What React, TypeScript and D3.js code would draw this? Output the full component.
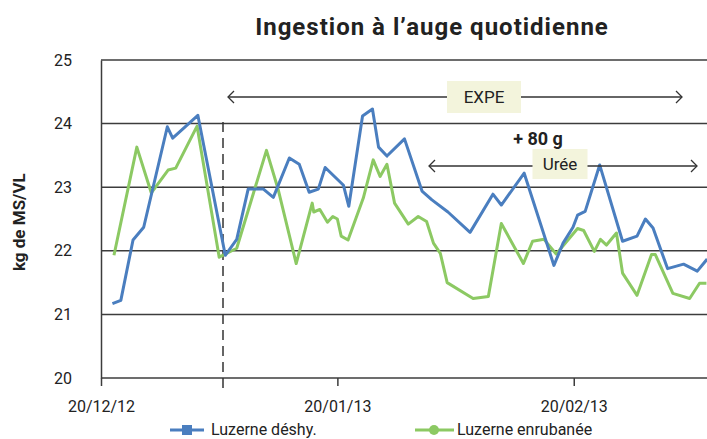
import React, { useEffect, useRef } from 'react';
import * as d3 from 'd3';

// days counted from 20/12/12 (fractional)
const deshyDays = [1.5, 2.6, 4.2, 5.6, 8.7, 9.4, 12.7, 16.3, 17.8, 19.3, 21.3, 22.6, 24.7, 26.0, 27.3, 28.5, 29.4, 31.8, 32.5, 34.3, 35.6, 36.4, 37.5, 39.8, 42.1, 43.4, 45.5, 48.4, 51.4, 52.5, 55.5, 59.4, 60.6, 61.9, 62.5, 63.5, 65.4, 68.4, 70.3, 71.4, 72.4, 74.3, 76.4, 78.2, 79.5];
const deshyValues = [21.17, 21.22, 22.17, 22.37, 23.95, 23.77, 24.13, 21.93, 22.18, 22.97, 22.97, 22.84, 23.46, 23.36, 22.92, 22.97, 23.31, 23.03, 22.7, 24.12, 24.23, 23.63, 23.49, 23.76, 22.94, 22.8, 22.61, 22.29, 22.89, 22.72, 23.22, 21.77, 22.12, 22.37, 22.56, 22.62, 23.35, 22.15, 22.23, 22.5, 22.36, 21.72, 21.79, 21.68, 21.87];

const enrubDays = [1.7, 4.7, 6.6, 8.8, 9.8, 12.6, 15.5, 17.8, 21.7, 23.2, 25.6, 27.7, 27.9, 28.7, 29.7, 30.4, 31.0, 31.5, 32.4, 34.4, 35.7, 36.6, 37.5, 38.5, 40.3, 41.6, 42.7, 43.6, 44.5, 45.4, 48.8, 50.8, 52.5, 55.4, 56.6, 58.1, 59.7, 62.5, 63.3, 64.7, 65.5, 66.3, 67.6, 68.4, 70.3, 72.2, 72.7, 75.0, 77.2, 78.5, 79.4];
const enrubValues = [21.93, 23.63, 22.91, 23.27, 23.3, 23.96, 21.9, 22.04, 23.58, 22.98, 21.8, 22.75, 22.61, 22.65, 22.45, 22.54, 22.5, 22.23, 22.17, 22.83, 23.43, 23.17, 23.36, 22.75, 22.42, 22.54, 22.46, 22.12, 21.96, 21.5, 21.25, 21.28, 22.43, 21.8, 22.15, 22.18, 21.95, 22.35, 22.32, 21.99, 22.18, 22.09, 22.28, 21.65, 21.3, 21.94, 21.94, 21.33, 21.25, 21.49, 21.49];

const xTickLabels = ['20/12/12', '20/01/13', '20/02/13'];
const yTicks = [20, 21, 22, 23, 24, 25];
const expeStart = '05/01/13';
const seriesNames = ['Luzerne déshy.', 'Luzerne enrubanée'];

const BLUE = '#4a7ebf';
const GREEN = '#8cc963';
const FONT = 'Roboto, sans-serif';

const App: React.FC = () => {
  const ref = useRef<SVGSVGElement | null>(null);

  useEffect(() => {
    if (!ref.current) return;
    const svg = d3.select(ref.current);
    svg.selectAll('*').remove();

    const parse = d3.timeParse('%d/%m/%y');
    const start = parse(xTickLabels[0]) as Date;
    const toDate = (d: number) => new Date(start.getTime() + d * 86400000);

    const x = d3.scaleTime().domain([start, toDate(80)]).range([101, 711]);
    const y = d3.scaleLinear().domain([20, 25]).range([378, 60]);

    // title
    svg.append('text')
      .attr('x', 432).attr('y', 35)
      .attr('text-anchor', 'middle')
      .style('font', `bold 24px ${FONT}`)
      .style('letter-spacing', '1px')
      .attr('fill', '#222')
      .text('Ingestion à l\u2019auge quotidienne');

    // grid
    svg.append('g').selectAll('line')
      .data(yTicks)
      .join('line')
      .attr('x1', 101).attr('x2', 707)
      .attr('y1', d => y(d)).attr('y2', d => y(d))
      .attr('stroke', '#3c3c3c').attr('stroke-width', 1.5);

    const yAxis = svg.append('g')
      .attr('transform', 'translate(101,0)')
      .call(d3.axisLeft(y).tickValues(yTicks).tickSize(0).tickPadding(29).tickFormat(d3.format('d')));
    yAxis.select('.domain').attr('stroke', '#3c3c3c').attr('stroke-width', 1.5);
    yAxis.selectAll('text').style('font', `16px ${FONT}`).attr('fill', '#222');

    const xAxis = svg.append('g')
      .attr('transform', 'translate(0,378)')
      .call(d3.axisBottom(x)
        .tickValues(xTickLabels.map(s => parse(s) as Date))
        .tickSize(8).tickPadding(15)
        .tickFormat(d3.timeFormat('%d/%m/%y') as any));
    xAxis.select('.domain').remove();
    xAxis.selectAll('line').attr('stroke', '#3c3c3c').attr('stroke-width', 1.5);
    xAxis.selectAll('text').style('font', `16px ${FONT}`).attr('fill', '#222');

    // y label
    svg.append('text')
      .attr('transform', `translate(19,${y(22.45)}) rotate(-90)`)
      .attr('text-anchor', 'middle')
      .attr('dy', '0.35em')
      .style('font', `bold 17px ${FONT}`)
      .attr('fill', '#222')
      .text('kg de MS/VL');

    // experiment start
    const ex = x(parse(expeStart) as Date);
    svg.append('line')
      .attr('x1', ex).attr('x2', ex)
      .attr('y1', 122).attr('y2', 390)
      .attr('stroke', '#333').attr('stroke-width', 1.5)
      .attr('stroke-dasharray', '10,6');

    // lines
    const g = svg.append('g');
    const line = d3.line<[number, number]>()
      .x(d => x(toDate(d[0])))
      .y(d => y(d[1]));
    g.append('path')
      .datum(enrubDays.map((d, i) => [d, enrubValues[i]] as [number, number]))
      .attr('fill', 'none').attr('stroke', GREEN).attr('stroke-width', 3)
      .attr('stroke-linejoin', 'round')
      .attr('d', line);
    g.append('path')
      .datum(deshyDays.map((d, i) => [d, deshyValues[i]] as [number, number]))
      .attr('fill', 'none').attr('stroke', BLUE).attr('stroke-width', 3)
      .attr('stroke-linejoin', 'round')
      .attr('d', line);

    // arrows
    const arrow = (x1: number, x2: number, yy: number) => {
      const a = svg.append('g').attr('stroke', '#333').attr('stroke-width', 1.3).attr('fill', 'none');
      a.append('line').attr('x1', x1).attr('x2', x2).attr('y1', yy).attr('y2', yy);
      a.append('path').attr('d', `M${x1 + 6},${yy - 6}L${x1},${yy}L${x1 + 6},${yy + 6}`);
      a.append('path').attr('d', `M${x2 - 6},${yy - 6}L${x2},${yy}L${x2 - 6},${yy + 6}`);
    };
    const label = (cx: number, y0: number, w: number, h: number, t: string) => {
      svg.append('rect').attr('x', cx - w / 2).attr('y', y0).attr('width', w).attr('height', h).attr('fill', '#f3f4dc');
      svg.append('text').attr('x', cx).attr('y', y0 + h / 2).attr('dy', '0.35em')
        .attr('text-anchor', 'middle').style('font', `17px ${FONT}`).attr('fill', '#222').text(t);
    };
    arrow(228, 682, 97);
    label(484, 81, 74, 32, 'EXPE');
    arrow(429, 697, 166);
    label(560, 149, 55, 30, 'Urée');
    svg.append('text').attr('x', 538).attr('y', 145).attr('text-anchor', 'middle')
      .style('font', `bold 18px ${FONT}`).attr('fill', '#222').text('+ 80 g');

    // legend
    const lg = svg.append('g').attr('transform', 'translate(0,430)');
    lg.append('line').attr('x1', 170).attr('x2', 204).attr('y1', 0).attr('y2', 0).attr('stroke', BLUE).attr('stroke-width', 3);
    lg.append('rect').attr('x', 182).attr('y', -5).attr('width', 10).attr('height', 10).attr('fill', BLUE);
    lg.append('text').attr('x', 211).attr('y', 0).attr('dy', '0.32em').style('font', `16px ${FONT}`).attr('fill', '#222').text(seriesNames[0]);
    lg.append('line').attr('x1', 415).attr('x2', 454).attr('y1', 0).attr('y2', 0).attr('stroke', GREEN).attr('stroke-width', 3);
    lg.append('circle').attr('cx', 434).attr('cy', 0).attr('r', 5).attr('fill', GREEN);
    lg.append('text').attr('x', 457).attr('y', 0).attr('dy', '0.32em').style('font', `16px ${FONT}`).attr('fill', '#222').text(seriesNames[1]);
  }, []);

  return (
    <svg ref={ref} width={707} height={439} style={{ display: 'block', position: 'absolute', left: 0, top: 0, background: '#fff' }} />
  );
};

export default App;
